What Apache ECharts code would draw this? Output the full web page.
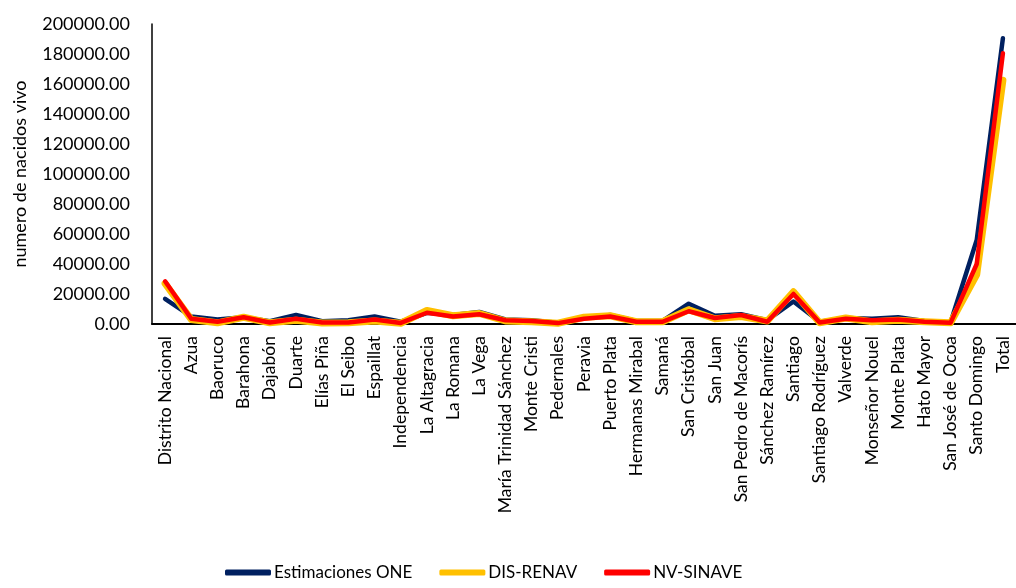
<!DOCTYPE html>
<html>
<head>
<meta charset="utf-8">
<script src="https://cdn.jsdelivr.net/npm/echarts@6/dist/echarts.min.js"></script>
<style>
  html, body { margin: 0; padding: 0; background: #fff; }
  #chart { width: 1016px; height: 588px; }
</style>
</head>
<body>
<div id="chart"></div>
<script>
// Provinces of the Dominican Republic plus the national total
const provincias = [
  'Distrito Nacional', 'Azua', 'Baoruco', 'Barahona', 'Dajabón', 'Duarte',
  'Elías Piña', 'El Seibo', 'Espaillat', 'Independencia', 'La Altagracia',
  'La Romana', 'La Vega', 'María Trinidad Sánchez', 'Monte Cristi', 'Pedernales',
  'Peravia', 'Puerto Plata', 'Hermanas Mirabal', 'Samaná', 'San Cristóbal',
  'San Juan', 'San Pedro de Macorís', 'Sánchez Ramírez', 'Santiago',
  'Santiago Rodríguez', 'Valverde', 'Monseñor Nouel', 'Monte Plata',
  'Hato Mayor', 'San José de Ocoa', 'Santo Domingo', 'Total'
];

// Live births per source
const estimacionesONE = [
  16800, 5000, 3000, 4500, 1800, 6000, 1800, 2500, 5000, 1500, 7500,
  6000, 8000, 3000, 2500, 800, 4000, 6000, 2000, 2000, 13500,
  5500, 6500, 2500, 15000, 1500, 4000, 3500, 4500, 2000, 1000, 56000, 190500
];
const disRenav = [
  27000, 3000, 800, 4500, 800, 2500, 700, 800, 2000, 500, 9000,
  5500, 7000, 2000, 1500, 500, 4500, 5500, 1500, 1500, 9500,
  3500, 5000, 2000, 21500, 800, 4000, 1500, 2500, 1500, 800, 33000, 162500
];
const nvSinave = [
  28500, 3500, 1500, 4500, 1000, 3500, 1000, 1000, 3000, 700, 7500,
  5000, 6500, 2500, 2000, 600, 3500, 5000, 1500, 1500, 8500,
  4000, 6000, 1500, 20000, 1000, 3500, 2500, 3000, 1500, 800, 40000, 180500
];

// Value axis ticks
const yMin = 0, yMax = 200000, yStep = 20000;

const FONT = 'Lato';
const chart = echarts.init(document.getElementById('chart'));

chart.setOption({
  animation: false,
  textStyle: { fontFamily: FONT, color: '#000' },
  grid: { left: 152, top: 24, height: 300, right: -7, containLabel: false },
  legend: {
    bottom: 2,
    left: 220,
    itemWidth: 46,
    itemHeight: 6,
    itemGap: 27,
    icon: 'roundRect',
    textStyle: { fontFamily: FONT, fontSize: 17, color: '#000', padding: [0, 0, 0, -2] },
    data: ['Estimaciones ONE', 'DIS-RENAV', 'NV-SINAVE']
  },
  graphic: [{
    type: 'text',
    x: 20,
    y: 174,
    rotation: Math.PI / 2,
    style: {
      text: 'numero de nacidos vivo',
      font: '18px ' + FONT,
      fill: '#000',
      textAlign: 'center',
      textVerticalAlign: 'middle'
    }
  }],
  xAxis: {
    type: 'category',
    data: provincias,
    boundaryGap: true,
    axisLine: { lineStyle: { color: '#000', width: 2 } },
    axisTick: { show: false },
    axisLabel: {
      rotate: 90,
      interval: 0,
      margin: 12,
      fontSize: 17.5,
      fontFamily: FONT,
      color: '#000'
    }
  },
  yAxis: {
    type: 'value',
    min: yMin,
    max: yMax,
    interval: yStep,
    axisLine: { show: true, lineStyle: { color: '#000', width: 1.5 } },
    axisTick: { show: false },
    splitLine: { show: false },
    axisLabel: {
      margin: 22,
      fontSize: 18,
      fontFamily: FONT,
      color: '#000',
      formatter: v => v.toFixed(2)
    }
  },
  series: [
    {
      name: 'Estimaciones ONE', type: 'line', data: estimacionesONE,
      symbol: 'none', itemStyle: { color: '#002060' },
      lineStyle: { color: '#002060', width: 4.5, cap: 'round', join: 'round' }
    },
    {
      name: 'DIS-RENAV', type: 'line', data: disRenav,
      symbol: 'none', itemStyle: { color: '#FFC000' },
      lineStyle: { color: '#FFC000', width: 7, cap: 'round', join: 'round' }
    },
    {
      name: 'NV-SINAVE', type: 'line', data: nvSinave,
      symbol: 'none', itemStyle: { color: '#FF0000' },
      lineStyle: { color: '#FF0000', width: 4.5, cap: 'round', join: 'round' }
    }
  ]
});
</script>
</body>
</html>
